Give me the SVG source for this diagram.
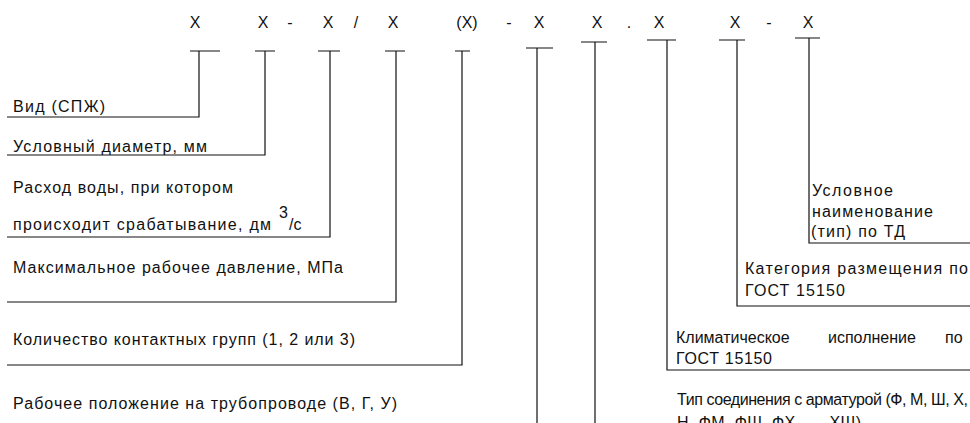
<svg xmlns="http://www.w3.org/2000/svg" width="970" height="423" viewBox="0 0 970 423">
<style>
text{font-family:"Liberation Sans",Arial,sans-serif;font-size:16px;fill:#111}
.c{text-anchor:middle}
.ln{fill:none;stroke:#111;stroke-width:1.2}
</style>
<rect width="970" height="423" fill="#fff"/>
<g id="code">
<text class="c" x="195" y="28">X</text>
<text class="c" x="263" y="28">X</text>
<text class="c" x="290" y="28">-</text>
<text class="c" x="328" y="28">X</text>
<text class="c" x="356" y="28">/</text>
<text class="c" x="393" y="28">X</text>
<text class="c" x="467" y="28">(X)</text>
<text class="c" x="509" y="28">-</text>
<text class="c" x="539" y="28">X</text>
<text class="c" x="597" y="28">X</text>
<text class="c" x="629" y="28">.</text>
<text class="c" x="659" y="28">X</text>
<text class="c" x="735" y="28">X</text>
<text class="c" x="769" y="28">-</text>
<text class="c" x="808" y="28">X</text>
</g>
<g id="connectors">
<path class="ln" d="M190 51H220M199 51V117H7"/>
<path class="ln" d="M255 51H275M265 51V155H7"/>
<path class="ln" d="M318 51H340M330 51V237H7"/>
<path class="ln" d="M385 51H405M396 51V302H7"/>
<path class="ln" d="M455 51H470M462 51V365H7"/>
<path class="ln" d="M526 48H553M537 48V423"/>
<path class="ln" d="M581 42H607M595 42V423"/>
<path class="ln" d="M647 40H676M667 40V370H970"/>
<path class="ln" d="M719 40H745M737 40V306H970"/>
<path class="ln" d="M795 38H820M809 38V243H970"/>
</g>
<g id="n-vid"><text x="13" y="112" textLength="92">Вид (СПЖ)</text></g>
<g id="n-du"><text x="13" y="152" textLength="194">Условный диаметр, мм</text></g>
<g id="n-flow">
<text x="13" y="193" textLength="220">Расход воды, при котором</text>
<text x="13" y="230" textLength="258">происходит срабатывание, дм</text>
<text x="279" y="218">3</text>
<text x="289" y="230">/с</text>
</g>
<g id="n-press"><text x="13" y="273" textLength="330">Максимальное рабочее давление, МПа</text></g>
<g id="n-contacts"><text x="13" y="345" textLength="342">Количество контактных групп (1, 2 или 3)</text></g>
<g id="n-position"><text x="13" y="409" textLength="384">Рабочее положение на трубопроводе (В, Г, У)</text></g>
<g id="n-conn">
<text x="677" y="405" textLength="291">Тип соединения с арматурой (Ф, М, Ш, Х,</text>
<text x="677" y="428" textLength="184">Н, ФМ, ФШ, ФХ, ..., ХШ)</text>
</g>
<g id="n-climate">
<text x="676" y="343">Климатическое</text>
<text x="828" y="343">исполнение</text>
<text x="945" y="343">по</text>
<text x="676" y="364" textLength="96">ГОСТ 15150</text>
</g>
<g id="n-category">
<text x="745" y="274" textLength="223">Категория размещения по</text>
<text x="745" y="296" textLength="100">ГОСТ 15150</text>
</g>
<g id="n-name">
<text x="812" y="196" textLength="81">Условное</text>
<text x="812" y="217" textLength="121">наименование</text>
<text x="811" y="237" textLength="94">(тип) по ТД</text>
</g>
</svg>
